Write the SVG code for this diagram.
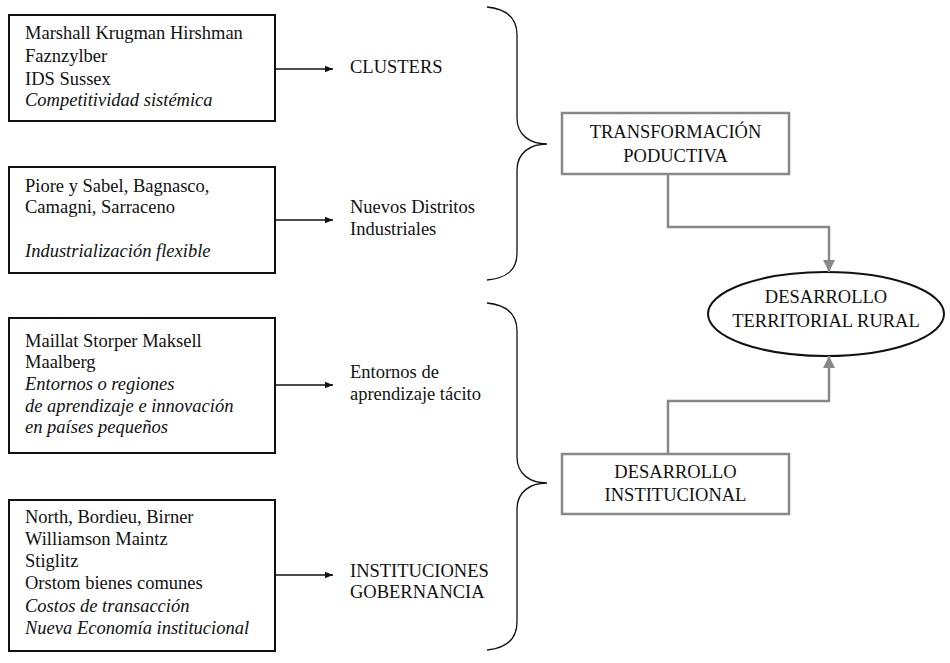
<svg xmlns="http://www.w3.org/2000/svg" width="950" height="663" viewBox="0 0 950 663">
<style>
text{font-family:'Liberation Serif','Tinos','DejaVu Serif',serif;font-size:18.5px;fill:#111}
.i{font-style:italic}
.c{text-anchor:middle}
.src{fill:#fff;stroke:#111;stroke-width:2}
.gbox{fill:#fff;stroke:#888;stroke-width:2.5}
.ln{fill:none;stroke:#111;stroke-width:1.5}
.gl{fill:none;stroke:#888;stroke-width:2.5}
.br{fill:none;stroke:#111;stroke-width:1.3}
</style>
<defs>
<marker id="ab" viewBox="0 0 10 10" refX="10" refY="5" markerWidth="10" markerHeight="8" markerUnits="userSpaceOnUse" orient="auto"><path d="M0,1 L10,5 L0,9 Z" fill="#111"/></marker>
<marker id="ag" viewBox="0 0 10 10" refX="10" refY="5" markerWidth="12" markerHeight="12" markerUnits="userSpaceOnUse" orient="auto"><path d="M0,0 L10,5 L0,10 Z" fill="#888"/></marker>
</defs>
<g id="n1"><rect class="src" x="9" y="15" width="266" height="106"/>
<text x="25" y="39">Marshall Krugman Hirshman</text><text x="25" y="62">Faznzylber</text><text x="25" y="85">IDS Sussex</text><text x="25" y="106" class="i">Competitividad sistémica</text></g>
<g id="n2"><rect class="src" x="9" y="167" width="266" height="106"/>
<text x="25" y="192">Piore y Sabel, Bagnasco,</text><text x="25" y="213">Camagni, Sarraceno</text><text x="25" y="257" class="i">Industrialización flexible</text></g>
<g id="n3"><rect class="src" x="9" y="318" width="266" height="135"/>
<text x="25" y="347">Maillat Storper Maksell</text><text x="25" y="368">Maalberg</text><text x="25" y="390" class="i">Entornos o regiones</text><text x="25" y="412" class="i">de aprendizaje e innovación</text><text x="25" y="433" class="i">en países pequeños</text></g>
<g id="n4"><rect class="src" x="9" y="500" width="266" height="151"/>
<text x="25" y="523">North, Bordieu, Birner</text><text x="25" y="545">Williamson Maintz</text><text x="25" y="567">Stiglitz</text><text x="25" y="589">Orstom bienes comunes</text><text x="25" y="612" class="i">Costos de transacción</text><text x="25" y="634" class="i">Nueva Economía institucional</text></g>
<g id="l1"><text x="350" y="73">CLUSTERS</text></g>
<g id="l2"><text x="350" y="213">Nuevos Distritos</text><text x="350" y="235">Industriales</text></g>
<g id="l3"><text x="350" y="378">Entornos de</text><text x="350" y="400">aprendizaje tácito</text></g>
<g id="l4"><text x="350" y="577">INSTITUCIONES</text><text x="350" y="598">GOBERNANCIA</text></g>
<g id="tp"><rect class="gbox" x="562" y="113" width="227" height="61"/>
<text class="c" x="675.5" y="138">TRANSFORMACIÓN</text><text class="c" x="675.5" y="162">PODUCTIVA</text></g>
<g id="di"><rect class="gbox" x="562" y="454" width="227" height="60"/>
<text class="c" x="675.5" y="478">DESARROLLO</text><text class="c" x="675.5" y="501">INSTITUCIONAL</text></g>
<g id="dtr"><ellipse cx="826" cy="314" rx="118" ry="42" fill="#fff" stroke="#111" stroke-width="2"/>
<text class="c" x="826" y="303">DESARROLLO</text><text class="c" x="826" y="327">TERRITORIAL RURAL</text></g>
<g id="connectors">
<path class="ln" d="M275,69 H333" marker-end="url(#ab)"/>
<path class="ln" d="M275,220 H333" marker-end="url(#ab)"/>
<path class="ln" d="M275,385 H333" marker-end="url(#ab)"/>
<path class="ln" d="M275,575 H333" marker-end="url(#ab)"/>
<path class="br" d="M487,7 C507,9 517,18 517,35 L517,118 C517,135 530,144 547,144 C530,144 517,153 517,170 L517,253 C517,270 507,278 487,280"/>
<path class="br" d="M487,303 C507,305 517,314 517,331 L517,457 C517,474 530,483 547,483 C530,483 517,492 517,509 L517,622 C517,639 507,648 487,650"/>
<path class="gl" d="M668,174 V227 H829 V272" marker-end="url(#ag)"/>
<path class="gl" d="M668,454 V401 H829 V356" marker-end="url(#ag)"/>
</g>
</svg>
